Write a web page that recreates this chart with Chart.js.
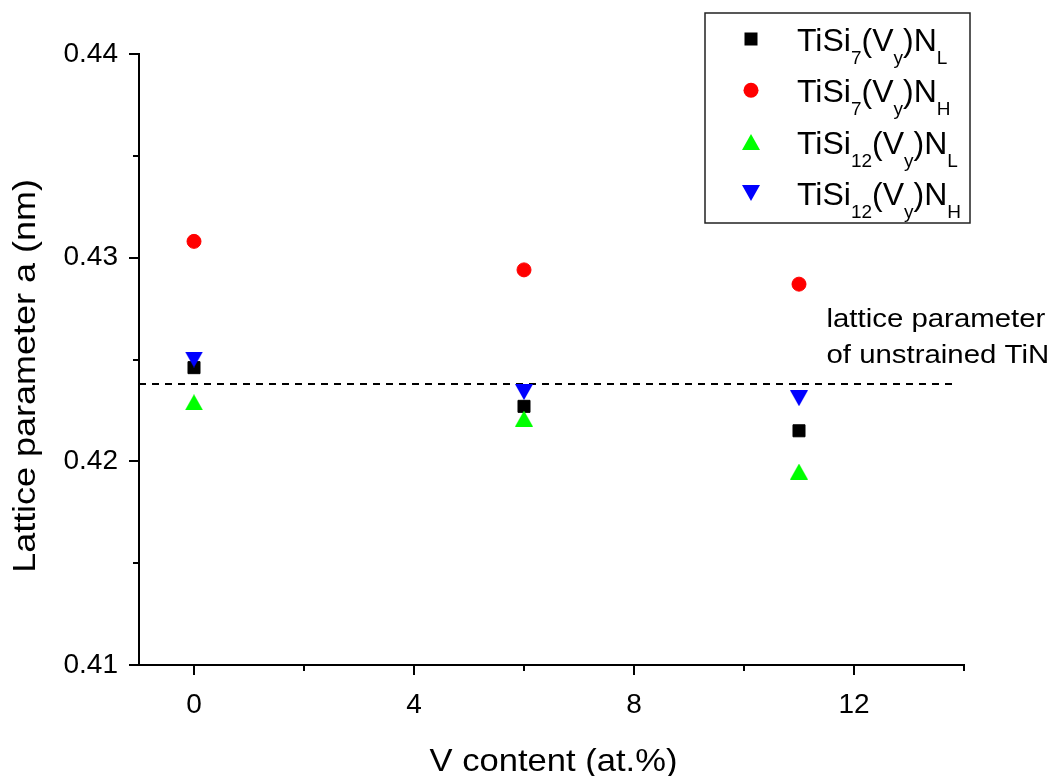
<!DOCTYPE html>
<html>
<head>
<meta charset="utf-8">
<script src="https://cdn.jsdelivr.net/npm/chart.js@4/dist/chart.umd.min.js"></script>
<style>
  html, body { margin: 0; padding: 0; background: #fff; }
  #wrap { width: 1054px; height: 776px; }
</style>
</head>
<body>
<div id="wrap"><canvas id="chart" width="1054" height="776"></canvas></div>
<script>
// V content (at.%) of each coating
const vContent = [0, 6, 11];

// Lattice parameter a (nm) per film series
const tiSi7NL  = [0.4246, 0.4227, 0.4215];
const tiSi7NH  = [0.4308, 0.4294, 0.4287];
const tiSi12NL = [0.4229, 0.4221, 0.4195];
const tiSi12NH = [0.4250, 0.4234, 0.4231];

// Reference line: lattice parameter of unstrained TiN
const tinRefX = [-1, 13.85];
const tinRefY = [0.4238, 0.4238];

// Axis ticks and their labels (blank = minor tick)
const xTicks = [0, 2, 4, 6, 8, 10, 12, 14];
const xTickLabels = ['0', '', '4', '', '8', '', '12', ''];
const yTicks = [0.41, 0.415, 0.42, 0.425, 0.43, 0.435, 0.44];
const yTickLabels = ['0.41', '', '0.42', '', '0.43', '', '0.44'];

// Series names as [text, isSubscript] runs
const nameTiSi7NL  = [['TiSi', 0], ['7', 1], ['(V', 0], ['y', 1], [')N', 0], ['L', 1]];
const nameTiSi7NH  = [['TiSi', 0], ['7', 1], ['(V', 0], ['y', 1], [')N', 0], ['H', 1]];
const nameTiSi12NL = [['TiSi', 0], ['12', 1], ['(V', 0], ['y', 1], [')N', 0], ['L', 1]];
const nameTiSi12NH = [['TiSi', 0], ['12', 1], ['(V', 0], ['y', 1], [')N', 0], ['H', 1]];

const xTitle = 'V content (at.%)';
const yTitle = 'Lattice parameter a (nm)';
const refNote = ['lattice parameter', 'of unstrained TiN'];

const FONT = '"Liberation Sans", Arial, Helvetica, sans-serif';

// Triangle markers centred on their bounding box
function triangleMarker(color, pointingDown) {
  const w = 18, h = 16;
  const c = document.createElement('canvas');
  c.width = w; c.height = h;
  const g = c.getContext('2d');
  g.fillStyle = color;
  g.beginPath();
  if (pointingDown) { g.moveTo(0, 0); g.lineTo(w, 0); g.lineTo(w / 2, h); }
  else { g.moveTo(w / 2, 0); g.lineTo(w, h); g.lineTo(0, h); }
  g.closePath();
  g.fill();
  return c;
}
const upGreen = triangleMarker('#00ff00', false);
const downBlue = triangleMarker('#0000ff', true);

function pts(xs, ys) { return xs.map((x, i) => ({ x: x, y: ys[i] })); }

// Text drawn slightly widened, as in the original plotting software
function wideText(ctx, text, x, y, size, stretch, align, angle) {
  ctx.save();
  ctx.translate(x, y);
  if (angle) ctx.rotate(angle);
  ctx.scale(stretch, 1);
  ctx.font = size + 'px ' + FONT;
  ctx.textAlign = align;
  ctx.textBaseline = 'alphabetic';
  ctx.fillText(text, 0, 0);
  ctx.restore();
}

function drawRuns(ctx, runs, x, baseline, size, subSize, subDrop) {
  let cx = x;
  runs.forEach(([t, sub]) => {
    ctx.font = (sub ? subSize : size) + 'px ' + FONT;
    ctx.fillText(t, cx, sub ? baseline + subDrop : baseline);
    cx += ctx.measureText(t).width;
  });
}

// Ticks, axis titles, legend box and the TiN note
const decorPlugin = {
  id: 'decor',
  afterDraw(chart) {
    const { ctx, chartArea: a, scales: { x, y } } = chart;
    ctx.save();
    ctx.strokeStyle = '#000';
    ctx.lineWidth = 2;
    ctx.beginPath();
    xTicks.forEach((v, i) => {
      const px = Math.round(x.getPixelForValue(v));
      const len = xTickLabels[i] ? 10 : 6;
      ctx.moveTo(px, a.bottom); ctx.lineTo(px, a.bottom + len);
    });
    yTicks.forEach((v, i) => {
      const py = Math.round(y.getPixelForValue(v));
      const len = yTickLabels[i] ? 10 : 6;
      ctx.moveTo(a.left, py); ctx.lineTo(a.left - len, py);
    });
    ctx.stroke();

    ctx.fillStyle = '#000';
    wideText(ctx, xTitle, (a.left + a.right) / 2 + 2, 771, 32, 1.08, 'center', 0);
    wideText(ctx, yTitle, 35, 376, 31, 1.16, 'center', -Math.PI / 2);

    // note beside the reference line
    const nx = x.getPixelForValue(11.5);
    wideText(ctx, refNote[0], nx, y.getPixelForValue(0.4266), 26, 1.13, 'left', 0);
    wideText(ctx, refNote[1], nx, y.getPixelForValue(0.42482), 26, 1.13, 'left', 0);

    // legend
    ctx.lineWidth = 1.5;
    ctx.strokeStyle = '#222';
    ctx.strokeRect(705, 13, 265, 210);
    ctx.textAlign = 'left';
    ctx.textBaseline = 'alphabetic';
    const items = chart.data.datasets.filter(d => d.legendRuns);
    items.forEach((d, i) => {
      const cy = 39 + i * 51.3;
      const mx = 751;
      ctx.fillStyle = d.backgroundColor;
      if (d.pointStyle === 'rect') {
        ctx.fillRect(mx - 6.5, cy - 6.5, 13, 13);
      } else if (d.pointStyle === 'circle') {
        ctx.beginPath(); ctx.arc(mx, cy, 7.5, 0, Math.PI * 2); ctx.fill();
      } else {
        const im = d.pointStyle;
        ctx.drawImage(im, Math.round(mx - im.width / 2), Math.round(cy - im.height / 2));
      }
      ctx.fillStyle = '#000';
      drawRuns(ctx, d.legendRuns, 797, cy + 12, 32, 19, 13);
    });
    ctx.restore();
  }
};

new Chart(document.getElementById('chart'), {
  type: 'scatter',
  data: {
    datasets: [
      { label: 'TiN reference', data: pts(tinRefX, tinRefY), showLine: true, pointRadius: 0,
        borderColor: '#000', borderWidth: 2, borderDash: [7, 6], fill: false, order: 5 },
      { label: 'TiSi7(Vy)NL', legendRuns: nameTiSi7NL, data: pts(vContent, tiSi7NL), pointStyle: 'rect',
        pointRadius: 8.5, pointBorderWidth: 1, backgroundColor: '#000', borderColor: '#000', order: 4 },
      { label: 'TiSi7(Vy)NH', legendRuns: nameTiSi7NH, data: pts(vContent, tiSi7NH), pointStyle: 'circle',
        pointRadius: 7, pointBorderWidth: 1, backgroundColor: '#ff0000', borderColor: '#ff0000', order: 3 },
      { label: 'TiSi12(Vy)NL', legendRuns: nameTiSi12NL, data: pts(vContent, tiSi12NL), pointStyle: upGreen,
        pointRadius: 9, backgroundColor: '#00ff00', borderColor: '#00ff00', order: 2 },
      { label: 'TiSi12(Vy)NH', legendRuns: nameTiSi12NH, data: pts(vContent, tiSi12NH), pointStyle: downBlue,
        pointRadius: 9, backgroundColor: '#0000ff', borderColor: '#0000ff', order: 1 }
    ]
  },
  options: {
    responsive: false,
    animation: false,
    devicePixelRatio: 1,
    layout: { padding: { left: 0, right: 90, top: 54, bottom: 0 } },
    plugins: { legend: { display: false }, tooltip: { enabled: false } },
    scales: {
      x: {
        type: 'linear', min: -1, max: 14,
        afterBuildTicks: s => { s.ticks = xTicks.map(v => ({ value: v })); },
        afterFit: s => { s.height = 111; },
        grid: { display: true, drawOnChartArea: false, tickLength: 10, tickColor: 'rgba(0,0,0,0)' },
        border: { display: true, color: '#000', width: 2 },
        ticks: { autoSkip: false, maxRotation: 0, padding: 13, color: '#000',
                 font: { family: FONT, size: 28 }, callback: (v, i) => xTickLabels[i] }
      },
      y: {
        type: 'linear', min: 0.41, max: 0.44,
        afterBuildTicks: s => { s.ticks = yTicks.map(v => ({ value: v })); },
        afterFit: s => { s.width = 139; },
        grid: { display: true, drawOnChartArea: false, tickLength: 10, tickColor: 'rgba(0,0,0,0)' },
        border: { display: true, color: '#000', width: 2 },
        ticks: { autoSkip: false, padding: 11, color: '#000',
                 font: { family: FONT, size: 28 }, callback: (v, i) => yTickLabels[i] }
      }
    }
  },
  plugins: [decorPlugin]
});
</script>
</body>
</html>
